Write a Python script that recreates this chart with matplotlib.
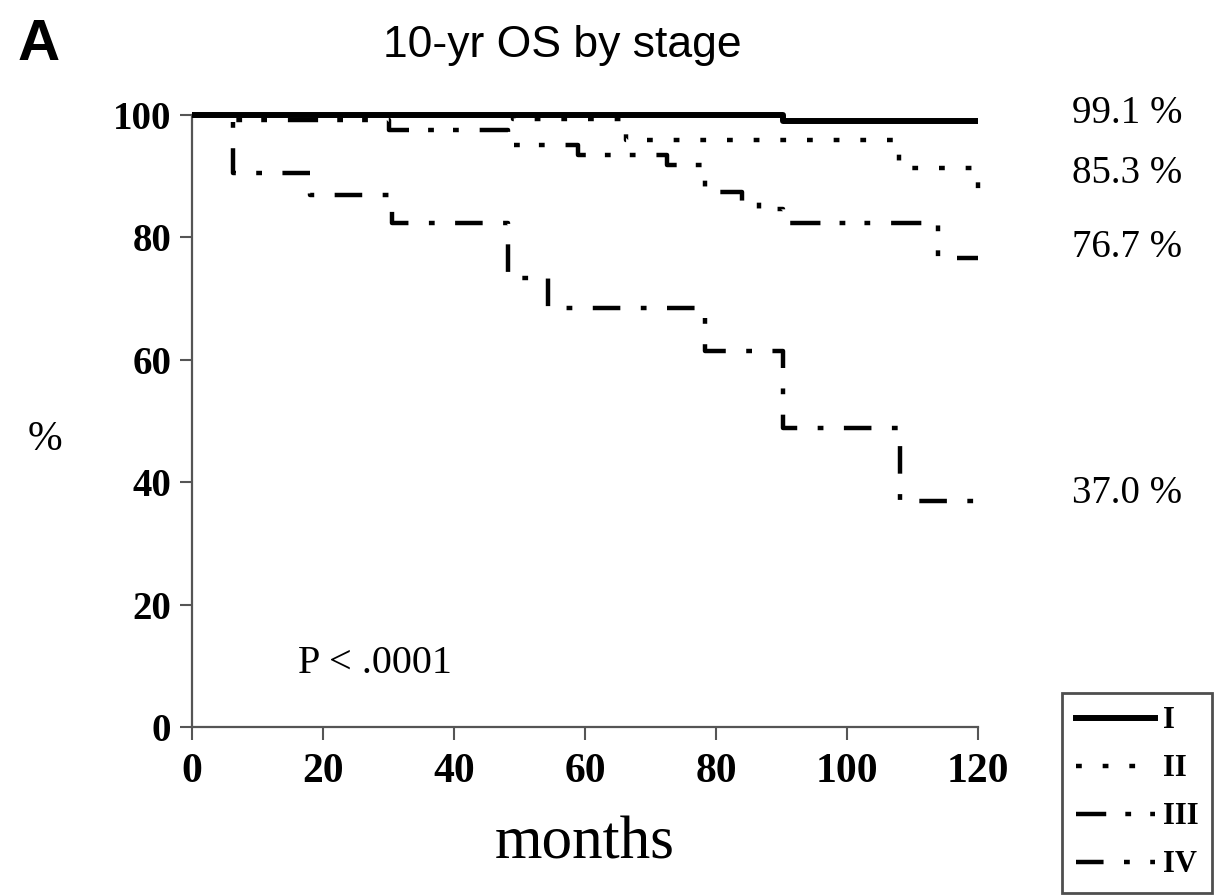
import matplotlib
matplotlib.use("Agg")
import matplotlib.pyplot as plt
from matplotlib.lines import Line2D

# Kaplan-Meier step data (months, % surviving)
t_I = [0, 90.2, 120]
s_I = [100, 99.1, 99.1]

t_II = [0, 49, 66.2, 108, 120]
s_II = [100, 99.4, 95.9, 91.3, 85.3]

t_III = [0, 6, 30, 48.3, 59, 72.5, 78.3, 84, 86.5, 90.2, 113.9, 120]
s_III = [100, 99.2, 97.5, 95.1, 93.4, 91.8, 87.4, 86.0, 84.7, 82.3, 76.7, 76.7]

t_IV = [0, 6.3, 18, 30.5, 48.3, 54.4, 78.3, 90.2, 108.1, 120]
s_IV = [100, 90.5, 86.9, 82.4, 73.4, 68.5, 61.4, 48.8, 37.0, 37.0]

stages = ["I", "II", "III", "IV"]
end_labels = ["99.1 %", "85.3 %", "76.7 %", "37.0 %"]
end_label_y = [100.3, 90.4, 78.4, 38.2]

x_ticks = [0, 20, 40, 60, 80, 100, 120]
y_ticks = [0, 20, 40, 60, 80, 100]

serif = "Liberation Serif"
sans = "Liberation Sans"

fig = plt.figure(figsize=(12.16, 8.96), dpi=100)
ax = fig.add_axes([192 / 1216, 1 - 727 / 896, (978 - 192) / 1216, (727 - 115) / 896])

styles = [
    dict(lw=4.3, ls="-"),
    dict(lw=3.2, dashes=(1.3, 4.7)),
    dict(lw=3.2, dashes=(6.8, 4.3, 1.3, 4.3, 1.3, 4.7)),
    dict(lw=3.2, dashes=(6.2, 4.6, 1.3, 4.6)),
]
series = [(t_I, s_I), (t_II, s_II), (t_III, s_III), (t_IV, s_IV)]

for i in [3, 2, 1, 0]:
    t, s = series[i]
    ax.plot(t, s, drawstyle="steps-post", color="black", clip_on=False,
            dash_capstyle="butt", solid_capstyle="butt", zorder=3 + (3 - i),
            **styles[i])

ax.set_xlim(0, 120)
ax.set_ylim(0, 100)
ax.set_xticks(x_ticks)
ax.set_yticks(y_ticks)
ax.set_xticklabels([str(v) for v in x_ticks], fontfamily=serif, fontweight="bold", fontsize=30)
ax.set_yticklabels([str(v) for v in y_ticks], fontfamily=serif, fontweight="bold", fontsize=28)
ax.tick_params(axis="both", direction="out", length=9, width=1.5, color="#555555")
ax.tick_params(axis="x", pad=10)
ax.tick_params(axis="y", pad=6)
for side in ["top", "right"]:
    ax.spines[side].set_visible(False)
for side in ["left", "bottom"]:
    ax.spines[side].set_linewidth(1.6)
    ax.spines[side].set_color("#555555")

ax.set_xlabel("months", fontfamily=serif, fontsize=44, labelpad=18)
fig.text(45 / 1216, 1 - 440 / 896, "%", fontfamily=serif, fontsize=30, ha="center", va="center")

for lab, yv in zip(end_labels, end_label_y):
    ax.text(134.4, yv, lab, fontfamily=serif, fontsize=28, ha="left", va="center", clip_on=False)

ax.text(16.2, 10.3, "P < .0001", fontfamily=serif, fontsize=29, ha="left", va="center")

fig.text(562 / 1216, 1 - 45 / 896, "10-yr OS by stage", fontfamily=sans, fontsize=32,
         ha="center", va="center")
fig.text(18 / 1216, 1 - 45 / 896, "A", fontfamily=sans, fontweight="bold", fontsize=42,
         ha="left", va="center")

handles = [Line2D([0], [0], color="black", dash_capstyle="butt", **styles[i]) for i in range(4)]
leg = fig.legend(handles, stages, loc="lower right", bbox_to_anchor=(1212 / 1216, 1 - 893 / 896),
                 prop=dict(family=serif, weight="bold", size=22), frameon=True, fancybox=False,
                 handlelength=2.6, handletextpad=0.25, labelspacing=0.62, borderpad=0.45,
                 borderaxespad=0)
leg.get_frame().set_edgecolor("#222222")
leg.get_frame().set_linewidth(2.0)

fig.savefig("out.png", dpi=100)
